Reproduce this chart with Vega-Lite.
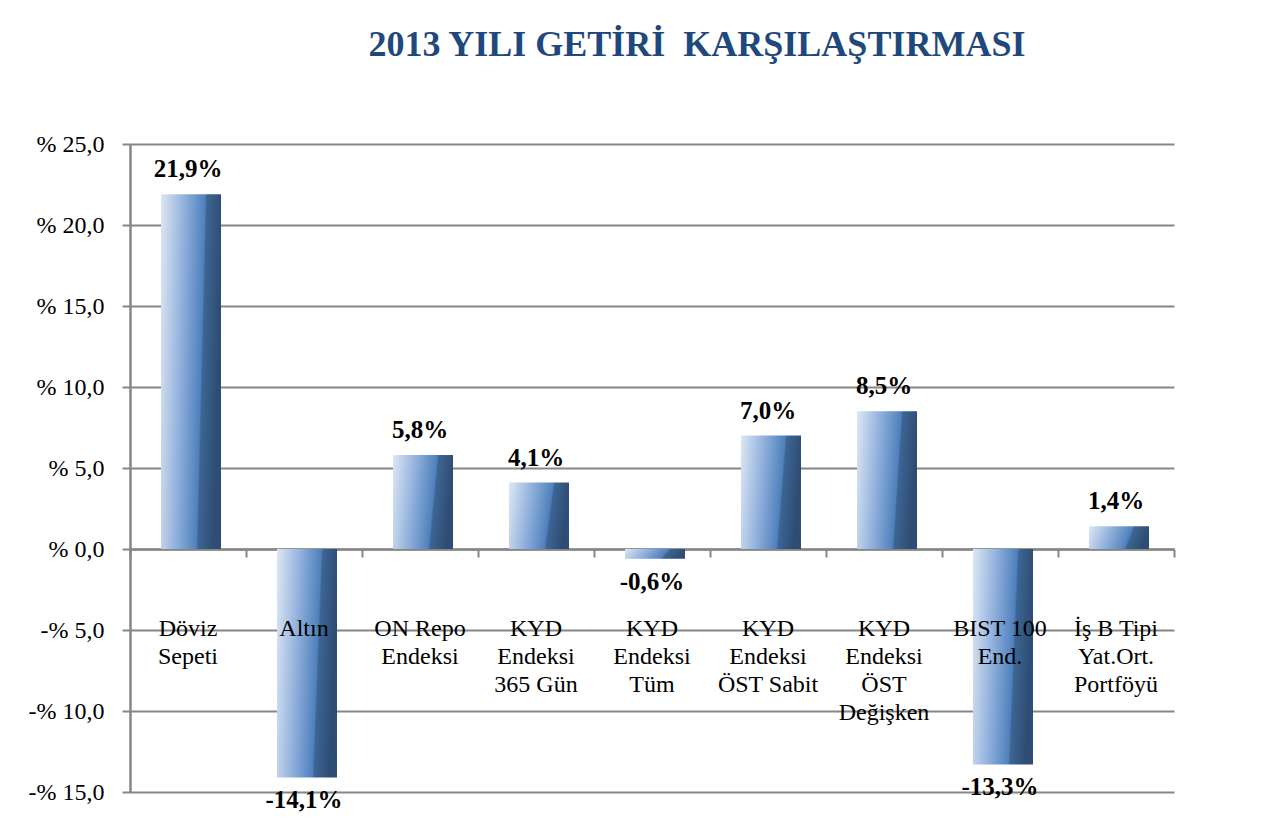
{
  "$schema": "https://vega.github.io/schema/vega-lite/v6.json",
  "width": 1044,
  "height": 648,
  "autosize": {"type": "none"},
  "padding": {"left": 130, "top": 144, "right": 93, "bottom": 31},
  "background": "white",
  "title": {
    "text": "2013 YILI GETİRİ \u00a0KARŞILAŞTIRMASI",
    "font": "Liberation Serif",
    "fontSize": 36,
    "fontWeight": "bold",
    "color": "#1f497d",
    "anchor": "middle",
    "offset": 68,
    "dx": 45
  },
  "config": {
    "view": {"stroke": null},
    "font": "Liberation Serif",
    "text": {"font": "Liberation Serif"},
    "axis": {"labelFont": "Liberation Serif"}
  },
  "data": {
    "values": [
      {"cat": "Döviz Sepeti", "label": "Döviz\nSepeti", "value": 21.9},
      {"cat": "Altın", "label": "Altın", "value": -14.1},
      {"cat": "ON Repo Endeksi", "label": "ON Repo\nEndeksi", "value": 5.8},
      {"cat": "KYD Endeksi 365 Gün", "label": "KYD\nEndeksi\n365 Gün", "value": 4.1},
      {"cat": "KYD Endeksi Tüm", "label": "KYD\nEndeksi\nTüm", "value": -0.6},
      {"cat": "KYD Endeksi ÖST Sabit", "label": "KYD\nEndeksi\nÖST Sabit", "value": 7.0},
      {"cat": "KYD Endeksi ÖST Değişken", "label": "KYD\nEndeksi\nÖST\nDeğişken", "value": 8.5},
      {"cat": "BIST 100 End.", "label": "BIST 100\nEnd.", "value": -13.3},
      {"cat": "İş B Tipi Yat.Ort. Portföyü", "label": "İş B Tipi\nYat.Ort.\nPortföyü", "value": 1.4}
    ]
  },
  "transform": [
    {"calculate": "replace(replace(format(datum.value, '.1f'), '.', ','), '\u2212', '-') + '%'", "as": "vlabel"}
  ],
  "encoding": {
    "x": {
      "field": "cat",
      "type": "nominal",
      "sort": null,
      "scale": {"paddingInner": 0, "paddingOuter": 0},
      "axis": {
        "title": null,
        "labels": false,
        "orient": "bottom",
        "offset": -243,
        "domainColor": "#868686",
        "domainWidth": 2.5,
        "tickColor": "#868686",
        "tickWidth": 2,
        "tickSize": 8,
        "tickBand": "extent"
      }
    }
  },
  "layer": [
    {
      "mark": {"type": "bar", "size": 60, "xOffset": 3,
        "color": {
          "gradient": "linear",
          "x1": 0, "y1": 0, "x2": 1, "y2": 0.15,
          "stops": [
            {"offset": 0, "color": "#dde7f4"},
            {"offset": 0.4, "color": "#8eaedb"},
            {"offset": 0.72, "color": "#4f81bd"},
            {"offset": 0.75, "color": "#3d6593"},
            {"offset": 1, "color": "#2e4d74"}
          ]
        }
      },
      "encoding": {
        "y": {
          "field": "value",
          "type": "quantitative",
          "scale": {"domain": [-15, 25], "nice": false, "zero": false},
          "axis": {
            "title": null,
            "values": [-15, -10, -5, 0, 5, 10, 15, 20, 25],
            "labelExpr": "(datum.value < 0 ? '-% ' : '% ') + replace(format(abs(datum.value), '.1f'), '.', ',')",
            "labelFont": "Liberation Serif",
            "labelFontSize": 24,
            "labelColor": "#000000",
            "labelPadding": 18,
            "domainColor": "#868686",
            "domainWidth": 2.5,
            "tickColor": "#868686",
            "tickWidth": 2,
            "tickSize": 8,
            "grid": true,
            "gridColor": "#868686",
            "gridWidth": 2
          }
        }
      }
    },
    {
      "transform": [{"filter": "datum.value >= 0"}],
      "mark": {"type": "text", "baseline": "bottom", "dy": -12, "fontSize": 25, "fontWeight": "bold", "font": "Liberation Serif", "color": "#000000"},
      "encoding": {
        "y": {"field": "value", "type": "quantitative"},
        "text": {"field": "vlabel"}
      }
    },
    {
      "transform": [{"filter": "datum.value < 0"}],
      "mark": {"type": "text", "baseline": "top", "dy": 11, "fontSize": 25, "fontWeight": "bold", "font": "Liberation Serif", "color": "#000000"},
      "encoding": {
        "y": {"field": "value", "type": "quantitative"},
        "text": {"field": "vlabel"}
      }
    },
    {
      "mark": {"type": "text", "baseline": "top", "lineBreak": "\n", "lineHeight": 28, "fontSize": 24, "font": "Liberation Serif", "color": "#000000"},
      "encoding": {
        "y": {"datum": -4.2, "type": "quantitative"},
        "text": {"field": "label"}
      }
    }
  ]
}
